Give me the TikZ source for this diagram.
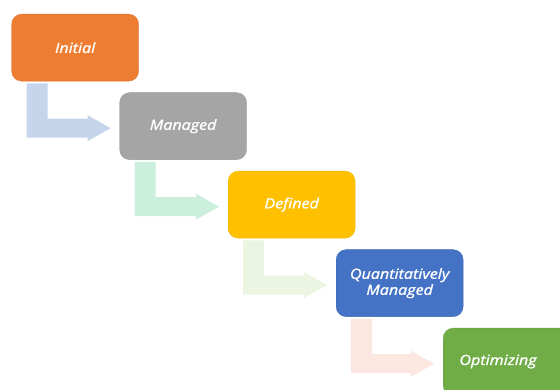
\documentclass[tikz,border=0pt]{standalone}
\usepackage{fontspec}
\setmainfont{Open Sans}
\newfontfamily\stagefont{Open Sans}[FakeStretch=1.15, FakeBold=1.3]
\usetikzlibrary{calc}
\definecolor{cOrange}{HTML}{ED7D31}
\definecolor{cGray}{HTML}{A5A5A5}
\definecolor{cGold}{HTML}{FFC000}
\definecolor{cBlue}{HTML}{4472C4}
\definecolor{cGreen}{HTML}{70AD47}
\definecolor{aBlue}{HTML}{C6D5EB}
\definecolor{aMint}{HTML}{CCEEDD}
\definecolor{aLime}{HTML}{EBF5E1}
\definecolor{aPink}{HTML}{FCE6E0}
\tikzset{
  stage/.style={rectangle, rounded corners=10pt, minimum width=127pt, minimum height=67pt,
    anchor=north west, inner sep=0pt, text=white, align=center,
    font=\stagefont\fontsize{14}{16}\selectfont\itshape, draw=#1!92!black, line width=0.3pt, fill=#1},
  stagetext/.style={text=white, inner sep=0pt, align=center,
    font=\stagefont\fontsize{14}{16}\selectfont\itshape},
  bentarrow/.style={fill=#1, draw=none}
}
\newcommand{\bentarr}[3]{%
  \path[bentarrow=#3] let \p1=(#1.south west), \p2=(#2.west) in
    ({\x1+15pt},{\y1-2pt}) -- ({\x1+36pt},{\y1-2pt}) -- ({\x1+36pt},{\y2+7.5pt})
    -- ({\x2-32pt},{\y2+7.5pt}) -- ({\x2-32pt},{\y2+11pt}) -- ({\x2-9pt},{\y2-2pt})
    -- ({\x2-32pt},{\y2-15pt}) -- ({\x2-32pt},{\y2-11.5pt}) -- ({\x1+15pt},{\y2-11.5pt}) -- cycle;}
\begin{document}
\begin{tikzpicture}[x=1pt,y=-1pt]
\useasboundingbox (0,0) rectangle (560,390);
\clip (0,0) rectangle (560,390);
\node[stage=cOrange] (s1) at (11.5,14) {Initial};
\node[stage=cGray] (s2) at (119.5,92.5) {Managed};
\node[stage=cGold] (s3) at (228,171) {Defined};
\node[stage=cBlue] (s4) at (336,249.5) {Quantitatively\\Managed};
\node[stage=cGreen] (s5) at (443,328) {};
\node[stagetext] (t5) at (498,361.5) {Optimizing};
\bentarr{s1}{s2}{aBlue}
\bentarr{s2}{s3}{aMint}
\bentarr{s3}{s4}{aLime}
\bentarr{s4}{s5}{aPink}
\end{tikzpicture}
\end{document}
